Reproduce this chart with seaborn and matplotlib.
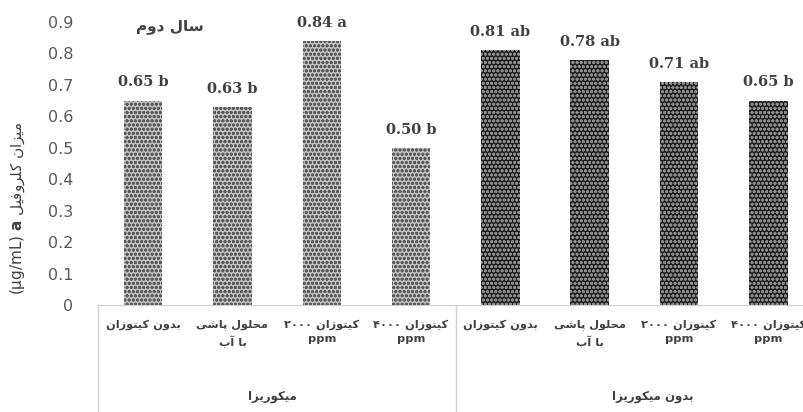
import matplotlib
matplotlib.use('Agg')
import matplotlib.pyplot as plt
import seaborn as sns
import pandas as pd

# data
treatments = ['بدون کیتوزان', 'محلول پاشی\nبا آب', 'کیتوزان ۲۰۰۰\nppm', 'کیتوزان ۴۰۰۰\nppm']
groups = ['میکوریزا', 'بدون میکوریزا']
chl_a = [0.65, 0.63, 0.84, 0.50, 0.81, 0.78, 0.71, 0.65]
letters = ['b', 'b', 'a', 'b', 'ab', 'ab', 'ab', 'b']
title = 'سال دوم'
ylab_fa = 'میزان کلروفیل'
group_label_x = [1.45, 5.7]

# --- tiny persian shaper (matplotlib has no arabic shaping) ---
forms = {  # iso, fin, ini, med
    'ا': ('\uFE8D', '\uFE8E', None, None), 'آ': ('\uFE81', '\uFE82', None, None),
    'د': ('\uFEA9', '\uFEAA', None, None), 'ر': ('\uFEAD', '\uFEAE', None, None),
    'ز': ('\uFEAF', '\uFEB0', None, None), 'و': ('\uFEED', '\uFEEE', None, None),
    'ب': ('\uFE8F', '\uFE90', '\uFE91', '\uFE92'), 'پ': ('\uFB56', '\uFB57', '\uFB58', '\uFB59'),
    'ت': ('\uFE95', '\uFE96', '\uFE97', '\uFE98'), 'ح': ('\uFEA1', '\uFEA2', '\uFEA3', '\uFEA4'),
    'س': ('\uFEB1', '\uFEB2', '\uFEB3', '\uFEB4'), 'ش': ('\uFEB5', '\uFEB6', '\uFEB7', '\uFEB8'),
    'ف': ('\uFED1', '\uFED2', '\uFED3', '\uFED4'), 'ک': ('\uFB8E', '\uFB8F', '\uFB90', '\uFB91'),
    'ل': ('\uFEDD', '\uFEDE', '\uFEDF', '\uFEE0'), 'م': ('\uFEE1', '\uFEE2', '\uFEE3', '\uFEE4'),
    'ن': ('\uFEE5', '\uFEE6', '\uFEE7', '\uFEE8'), 'ی': ('\uFBFC', '\uFBFD', '\uFBFE', '\uFBFF'),
}


def shape_word(w):
    if not any(c in forms for c in w):
        return w
    out = []
    for i, c in enumerate(w):
        f = forms.get(c)
        if f is None:
            out.append(c)
            continue
        prev = w[i - 1] if i > 0 else None
        nxt = w[i + 1] if i < len(w) - 1 else None
        jp = prev in forms and forms[prev][2] is not None
        jn = nxt in forms and f[2] is not None
        if jp and jn:
            out.append(f[3])
        elif jp:
            out.append(f[1])
        elif jn:
            out.append(f[2])
        else:
            out.append(f[0])
    return ''.join(reversed(out))


def rtl(s):
    return '\n'.join(' '.join(shape_word(w) for w in reversed(line.split(' ')))
                     for line in s.split('\n'))


sns.set_style('white')
plt.rcParams['font.family'] = ['DejaVu Sans']
plt.rcParams['hatch.linewidth'] = 0.9

df = pd.DataFrame({
    'key': [f'{g}|{t}' for g in groups for t in treatments],
    'group': [g for g in groups for _ in treatments],
    'value': chl_a,
})

fig = plt.figure(figsize=(8.04, 4.12), dpi=100)
ax = fig.add_axes([98.4 / 804, 107 / 412, (813 - 98.4) / 804, 283 / 412])
sns.barplot(data=df, x='key', y='value', hue='group', dodge=False, width=0.43,
            palette=['#c4c4c4', '#1c1c1c'], saturation=1, legend=False, ax=ax)
hatch_cols = ['#5a5a5a', '#8c8c8c']
for cont, hc in zip(ax.containers, hatch_cols):
    for p in cont:
        p.set_hatch('oooo')
        p.set_edgecolor(hc)
        p.set_linewidth(0)

for i, (v, l) in enumerate(zip(chl_a, letters)):
    ax.annotate(f'{v:.2f} {l}', (i, v), xytext=(0, 8), textcoords='offset points',
                ha='center', va='bottom', fontsize=10.5, fontweight='bold',
                family='DejaVu Serif', color='#404040')

ax.set_ylim(0, 0.9)
ax.set_xlim(-0.5, 7.5)
ax.set_yticks([0, 0.1, 0.2, 0.3, 0.4, 0.5, 0.6, 0.7, 0.8, 0.9])
ax.set_yticklabels(['0', '0.1', '0.2', '0.3', '0.4', '0.5', '0.6', '0.7', '0.8', '0.9'])
ax.tick_params(axis='y', length=0, pad=18, labelsize=11.5, labelcolor='#595959')
ax.set_xticks([])
ax.set_xlabel('')
ax.set_ylabel('')
for s in ['top', 'right', 'left']:
    ax.spines[s].set_visible(False)
ax.spines['bottom'].set_color('#d0d0d0')

tr = ax.get_xaxis_transform()
for j in range(8):
    ax.text(j, -0.05, rtl(treatments[j % 4]), transform=tr, ha='center', va='top',
            fontsize=8.2, fontweight='bold', color='#404040', linespacing=1.5)
for gx, g in zip(group_label_x, groups):
    ax.text(gx, -0.325, rtl(g), transform=tr, ha='center', va='center',
            fontsize=8.5, fontweight='bold', color='#404040')
for xv in [-0.5, 3.5]:
    ax.plot([xv, xv], [0, -0.4], transform=tr, color='#d0d0d0', lw=1, clip_on=False)

ax.text(0.3, 0.885, rtl(title), transform=ax.transData, ha='center', va='center',
        fontsize=11, fontweight='bold', color='#404040')
fig.text(18 / 804, 1 - 208 / 412, '(µg/mL) $\\mathbf{a}$ ' + rtl(ylab_fa), rotation=90,
         ha='center', va='center', fontsize=11, color='#404040')

fig.savefig('out.png', dpi=100)
